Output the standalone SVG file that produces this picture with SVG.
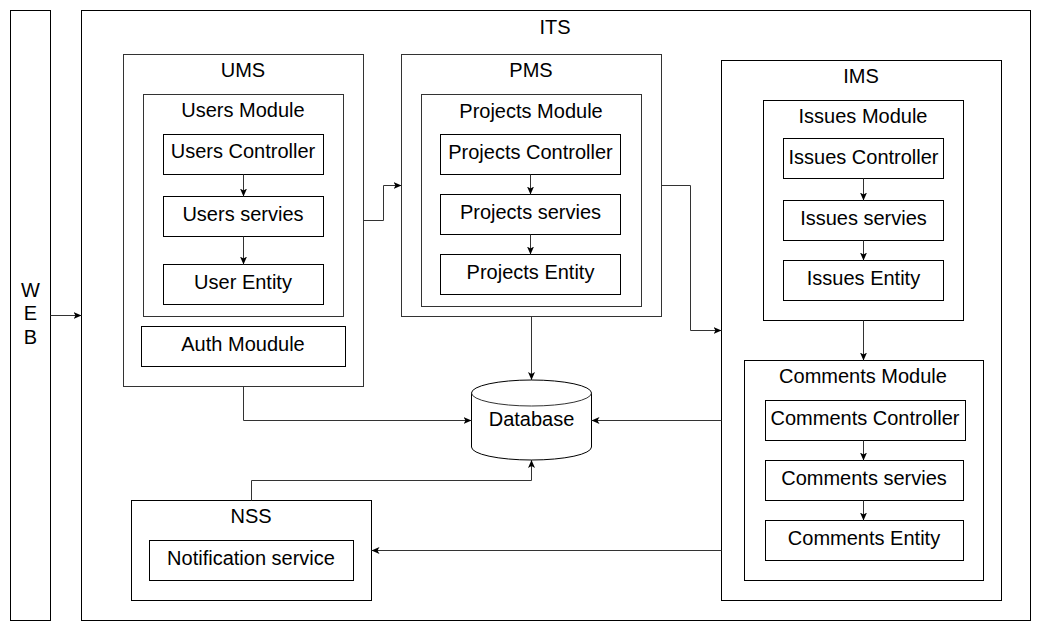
<svg xmlns="http://www.w3.org/2000/svg" width="1042" height="631" viewBox="0 0 1042 631">
<style>
.box{fill:#fff;stroke:#000;stroke-width:1}
.cont{fill:none;stroke:#333;stroke-width:1}
.t{font-family:"Liberation Sans",Arial,sans-serif;font-size:20px;fill:#000;text-anchor:middle}
.c{fill:none;stroke:#333;stroke-width:1;marker-end:url(#arr)}
.l{fill:none;stroke:#333;stroke-width:1}
</style>
<defs>
<marker id="arr" markerWidth="9" markerHeight="8" refX="8" refY="3.5" orient="auto" markerUnits="userSpaceOnUse">
<path d="M0,0 L8,3.5 L0,7 L2,3.5 Z" fill="#000"/>
</marker>
</defs>
<rect width="1042" height="631" fill="#fff"/>
<g id="web">
<rect class="box" x="10.5" y="10.5" width="40" height="610"/>
<text class="t" x="30.5" y="297">W</text>
<text class="t" x="30.5" y="320">E</text>
<text class="t" x="30.5" y="344">B</text>
</g>
<g id="its">
<rect class="box" x="81.5" y="10.5" width="949" height="610"/>
<text class="t" x="555" y="34">ITS</text>
</g>
<g id="ums">
<rect class="cont" x="123.5" y="54.5" width="240" height="332"/>
<text class="t" x="243" y="77">UMS</text>
</g>
<g id="users-module">
<rect class="cont" x="143.5" y="94.5" width="200" height="222"/>
<text class="t" x="243" y="117">Users Module</text>
</g>
<g id="users-controller">
<rect class="box" x="163.5" y="134.5" width="160" height="40"/>
<text class="t" x="243" y="158">Users Controller</text>
</g>
<g id="users-servies">
<rect class="box" x="163.5" y="196.5" width="160" height="40"/>
<text class="t" x="243" y="221">Users servies</text>
</g>
<g id="user-entity">
<rect class="box" x="163.5" y="264.5" width="160" height="40"/>
<text class="t" x="243" y="289">User Entity</text>
</g>
<g id="auth-module">
<rect class="box" x="141.5" y="326.5" width="204" height="40"/>
<text class="t" x="243" y="351">Auth Moudule</text>
</g>
<g id="pms">
<rect class="cont" x="401.5" y="54.5" width="260" height="262"/>
<text class="t" x="531" y="77">PMS</text>
</g>
<g id="projects-module">
<rect class="cont" x="421.5" y="94.5" width="220" height="212"/>
<text class="t" x="531" y="118">Projects Module</text>
</g>
<g id="projects-controller">
<rect class="box" x="440.5" y="134.5" width="180" height="40"/>
<text class="t" x="530.5" y="159">Projects Controller</text>
</g>
<g id="projects-servies">
<rect class="box" x="440.5" y="194.5" width="180" height="40"/>
<text class="t" x="530.5" y="219">Projects servies</text>
</g>
<g id="projects-entity">
<rect class="box" x="440.5" y="254.5" width="180" height="40"/>
<text class="t" x="530.5" y="279">Projects Entity</text>
</g>
<g id="ims">
<rect class="box" x="721.5" y="60.5" width="280" height="540"/>
<text class="t" x="861" y="83">IMS</text>
</g>
<g id="issues-module">
<rect class="box" x="763.5" y="100.5" width="200" height="220"/>
<text class="t" x="863" y="123">Issues Module</text>
</g>
<g id="issues-controller">
<rect class="box" x="783.5" y="138.5" width="160" height="40"/>
<text class="t" x="863.5" y="164">Issues Controller</text>
</g>
<g id="issues-servies">
<rect class="box" x="783.5" y="200.5" width="160" height="40"/>
<text class="t" x="863.5" y="225">Issues servies</text>
</g>
<g id="issues-entity">
<rect class="box" x="783.5" y="260.5" width="160" height="40"/>
<text class="t" x="863.5" y="285">Issues Entity</text>
</g>
<g id="comments-module">
<rect class="box" x="744.5" y="360.5" width="239" height="220"/>
<text class="t" x="863" y="383">Comments Module</text>
</g>
<g id="comments-controller">
<rect class="box" x="765.5" y="400.5" width="200" height="40"/>
<text class="t" x="865" y="425">Comments Controller</text>
</g>
<g id="comments-servies">
<rect class="box" x="765.5" y="460.5" width="198" height="40"/>
<text class="t" x="864" y="485">Comments servies</text>
</g>
<g id="comments-entity">
<rect class="box" x="765.5" y="520.5" width="198" height="40"/>
<text class="t" x="864" y="545">Comments Entity</text>
</g>
<g id="database">
<path class="box" d="M471.5,393 A60,13 0 0 1 591.5,393 V447 A60,13 0 0 1 471.5,447 Z"/>
<path class="l" d="M471.5,393 A60,13 0 0 0 591.5,393"/>
<text class="t" x="531.5" y="426">Database</text>
</g>
<g id="nss">
<rect class="box" x="131.5" y="500.5" width="240" height="100"/>
<text class="t" x="251" y="523">NSS</text>
</g>
<g id="notification-service">
<rect class="box" x="149.5" y="540.5" width="204" height="40"/>
<text class="t" x="251" y="565">Notification service</text>
</g>
<g id="connectors">
<path class="c" d="M50.5,315.5 H81.5"/>
<path class="c" d="M243.5,174.5 V196.5"/>
<path class="c" d="M243.5,236.5 V264.5"/>
<path class="c" d="M530.5,174.5 V194.5"/>
<path class="c" d="M530.5,234.5 V254.5"/>
<path class="c" d="M863.5,178.5 V200.5"/>
<path class="c" d="M863.5,240.5 V260.5"/>
<path class="c" d="M863.5,320.5 V360.5"/>
<path class="c" d="M863.5,440.5 V460.5"/>
<path class="c" d="M863.5,500.5 V520.5"/>
<path class="c" d="M363.5,220.5 H383.5 V185.5 H401.5"/>
<path class="c" d="M661.5,185.5 H690.5 V330.5 H721.5"/>
<path class="c" d="M531.5,316.5 V380"/>
<path class="c" d="M243.5,386.5 V420.5 H471.5"/>
<path class="c" d="M721.5,420.5 H591.5"/>
<path class="c" d="M251.5,500.5 V480.5 H531.5 V460"/>
<path class="c" d="M721.5,550.5 H371.5"/>
</g>
</svg>
